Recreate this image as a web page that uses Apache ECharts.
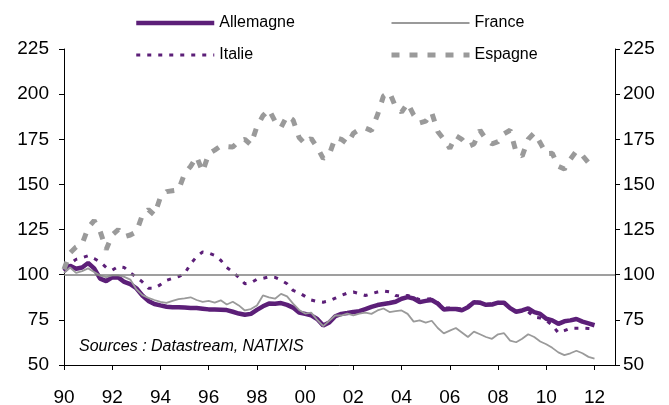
<!DOCTYPE html>
<html>
<head>
<meta charset="utf-8">
<title>Allemagne, France, Italie, Espagne</title>
<script src="https://cdn.jsdelivr.net/npm/echarts/dist/echarts.min.js"></script>
<style>
    html, body { margin: 0; padding: 0; background: #fff; }
    #chart_countries { width: 669px; height: 405px; }
</style>
</head>
<body>
<div id="chart_countries"></div>
<script>

// Data
// ------------------------------

// Quarterly periods, 1990 Q1 - 2012 Q1
var periods = [];
for (var q = 0; q <= 88; q++) {
    periods.push(1990 + q / 4);
}

// x axis tick labels (years)
var yearTicks = [1990, 1992, 1994, 1996, 1998, 2000, 2002, 2004, 2006, 2008, 2010, 2012];

var allemagne = [
    102, 105, 103.3, 104,
    106.5, 103.5, 97.8, 96.5,
    98.5, 98.5, 96, 94.8,
    92.5, 88.5, 85.5, 83.8,
    83, 82.3, 82, 82,
    81.8, 81.6, 81.6, 81.2,
    80.8, 80.7, 80.6, 80.4,
    79.5, 78.5, 77.8, 78.3,
    80.5, 82.5, 84, 83.9,
    84.3, 83.3, 81.8, 79,
    78.3, 77.5, 75.5, 71.9,
    73.5, 77, 78.3, 78.8,
    79.4, 79.8, 81, 82.2,
    83.2, 83.8, 84.3, 85,
    86.7, 87.6, 86.8, 84.8,
    85.5, 86, 84, 80.8,
    81, 81, 80.3, 82,
    84.8, 84.5, 83.3, 83.5,
    84.5, 84.5, 81.5, 79.5,
    80.2, 81.3, 79.3, 78.3,
    75.6, 74.7, 72.8, 74.2,
    74.7, 75.5, 74, 73,
    72
];

var france = [
    101, 104, 101, 102,
    103.5, 101.5, 99.5, 98.7,
    99.6, 99.6, 98.8, 97.3,
    92, 88.7, 87.2, 86,
    85, 84.4, 85.5, 86.5,
    86.9, 87.5, 86, 85,
    85.5, 84.5, 85.8, 83.5,
    85, 83, 80.2, 81,
    83, 88.5, 87.5, 86.7,
    89.4, 88, 84, 80.5,
    78.5, 79, 75, 71.5,
    74.5, 77.4, 77.4, 78.5,
    77.5, 78.5, 79, 78.3,
    80.2, 81.3, 79.3, 79.8,
    80.2, 78.3, 74, 74.7,
    73.5, 74.5, 70.5, 67.5,
    69, 70.5, 68, 65.5,
    68.5, 67, 65.5, 64.5,
    67, 67.6, 63.5, 62.6,
    64.5, 67, 65.5, 63,
    61.5, 59.5, 57, 55.5,
    56.5, 57.9, 56.5, 54.5,
    53.5
];

var italie = [
    105, 106, 108.5, 109.4,
    110.5, 109, 107, 104,
    102.5, 104.5, 104, 101,
    98.7, 96, 92.5, 92.5,
    94.5, 96.9, 98, 99,
    100.5, 106, 110, 112.6,
    112, 110.7, 108, 104,
    101.5, 98.5, 95, 95.5,
    97.5, 98, 98.8, 98.5,
    97, 95, 91.3, 90,
    88, 86, 85.2, 84.8,
    85.5, 87, 88.5, 89.8,
    90.4, 89.5, 88.5, 89.5,
    90.4, 91, 90.5, 88.5,
    88, 88.5, 87.5, 86.2,
    86.5, 86.7, 84.5, 81.5,
    81.5, 81.5, 81, 82.5,
    85, 84.8, 83.5, 84,
    84.8, 84, 81.5, 79.5,
    80, 79.5, 76.5, 76,
    74.7, 72, 67.8, 69,
    70.4, 70.4, 70.4, 70.2,
    70
];

var espagne = [
    103, 112, 115.3, 117,
    126, 130, 124, 114,
    122, 125, 121, 122,
    123.7, 133, 136, 133,
    143, 146, 146.5, 147,
    156, 160, 165.4, 157,
    167, 169, 171.3, 171,
    170.7, 174, 175, 172,
    182, 188, 191.5, 185,
    181.5, 188, 185.7, 176,
    172.4, 175.5, 170.5, 164.4,
    166.5, 176, 175, 172.5,
    178.3, 180.5, 181.2, 179.8,
    188.5, 199, 201, 193,
    190, 195, 188.5, 184,
    185, 189.8, 179.3, 175,
    170, 177, 175, 171,
    172.4, 180, 175, 172.5,
    173.7, 178, 180, 168,
    165.7, 175, 178.5, 173,
    167, 167.2, 160, 158.5,
    164, 168.5, 166, 162,
    160.5
];


// Setup chart
// ------------------------------

var ChartCountries = function() {

    var _chartCountries = function() {
        if (typeof echarts == 'undefined') {
            console.warn('Warning - echarts.min.js is not loaded.');
            return;
        }

        // Define element
        var chart_element = document.getElementById('chart_countries');
        if (!chart_element) {
            return;
        }

        // Initialize chart
        var chart = echarts.init(chart_element, null, { renderer: 'canvas' });

        // Colors and line styles
        var purple = '#5c1f78',
            grey = '#9a9a9a',
            axisColor = '#000',
            fontFamily = '"Liberation Sans", Arial, sans-serif';

        var styleAllemagne = { color: purple, width: 4.5 },
            styleFrance = { color: grey, width: 1.8 },
            styleItalie = { color: purple, width: 3, type: [4, 7], cap: 'butt' },
            styleEspagne = { color: grey, width: 5, type: [8, 10], cap: 'butt' };

        // Pair periods with values
        var toPoints = function(values) {
            return values.map(function(v, i) {
                return [periods[i], v];
            });
        };

        // Shared y axis settings
        var yAxisBase = {
            type: 'value',
            min: 50,
            max: 225,
            interval: 25,
            splitLine: { show: false },
            axisLine: { show: true, lineStyle: { color: axisColor, width: 1 } },
            axisTick: { show: true, inside: false, length: 5, lineStyle: { color: axisColor } },
            axisLabel: { color: '#000', fontSize: 19, fontFamily: fontFamily }
        };

        // Shared legend settings
        var legendBase = {
            orient: 'vertical',
            top: 10,
            itemWidth: 78,
            itemHeight: 16,
            itemGap: 16,
            itemStyle: { opacity: 0 },
            textStyle: { fontSize: 16, color: '#000', fontFamily: fontFamily },
            selectedMode: false
        };

        chart.setOption({
            animation: false,
            backgroundColor: '#fff',

            textStyle: {
                fontFamily: fontFamily,
                color: '#000'
            },

            // Fixed plot area, labels may sit on the edges
            grid: {
                left: 64,
                right: 54,
                top: 49,
                bottom: 40,
                containLabel: false,
                outerBoundsMode: 'none'
            },

            // Legend, two columns
            legend: [
                echarts.util.merge({
                    left: 129,
                    data: [
                        { name: 'Allemagne', lineStyle: styleAllemagne },
                        { name: 'Italie', lineStyle: styleItalie }
                    ]
                }, legendBase),
                echarts.util.merge({
                    left: 384,
                    data: [
                        { name: 'France', lineStyle: styleFrance },
                        { name: 'Espagne', lineStyle: styleEspagne }
                    ]
                }, legendBase)
            ],

            xAxis: {
                type: 'value',
                min: 1990,
                max: 2012.85,
                interval: 2,
                splitLine: { show: false },
                axisLine: { show: true, onZero: false, lineStyle: { color: axisColor, width: 1 } },
                axisTick: {
                    show: true,
                    length: 5,
                    customValues: yearTicks,
                    lineStyle: { color: axisColor }
                },
                axisLabel: {
                    customValues: yearTicks,
                    color: '#000',
                    fontSize: 19,
                    fontFamily: fontFamily,
                    margin: 23,
                    formatter: function(value) {
                        var yy = Math.round(value) % 100;
                        return (yy < 10 ? '0' : '') + yy;
                    }
                }
            },

            yAxis: [
                echarts.util.merge({ position: 'left', axisLabel: { margin: 15 } }, yAxisBase, true),
                echarts.util.merge({ position: 'right', axisLabel: { margin: 8 } }, yAxisBase, true)
            ],

            // Source note
            graphic: [
                {
                    type: 'text',
                    left: 79,
                    top: 339,
                    silent: true,
                    style: {
                        text: 'Sources : Datastream, NATIXIS',
                        font: 'italic 16px "Liberation Sans", Arial, sans-serif',
                        fill: '#000'
                    }
                }
            ],

            series: [
                {
                    name: 'Allemagne',
                    type: 'line',
                    symbol: 'none',
                    color: purple,
                    lineStyle: styleAllemagne,
                    data: toPoints(allemagne),
                    markLine: {
                        silent: true,
                        symbol: 'none',
                        label: { show: false },
                        lineStyle: { color: '#7f7f7f', type: 'solid', width: 1.5 },
                        data: [{ yAxis: 100 }]
                    },
                    z: 2
                },
                {
                    name: 'France',
                    type: 'line',
                    symbol: 'none',
                    color: grey,
                    lineStyle: styleFrance,
                    data: toPoints(france),
                    z: 3
                },
                {
                    name: 'Italie',
                    type: 'line',
                    symbol: 'none',
                    color: purple,
                    lineStyle: styleItalie,
                    data: toPoints(italie),
                    z: 4
                },
                {
                    name: 'Espagne',
                    type: 'line',
                    symbol: 'none',
                    color: grey,
                    lineStyle: styleEspagne,
                    data: toPoints(espagne),
                    z: 5
                }
            ]
        });

        // Resize
        window.addEventListener('resize', function() {
            chart.resize();
        });
    };

    return {
        init: function() {
            _chartCountries();
        }
    };
}();

document.addEventListener('DOMContentLoaded', function() {
    ChartCountries.init();
});
</script>
</body>
</html>
